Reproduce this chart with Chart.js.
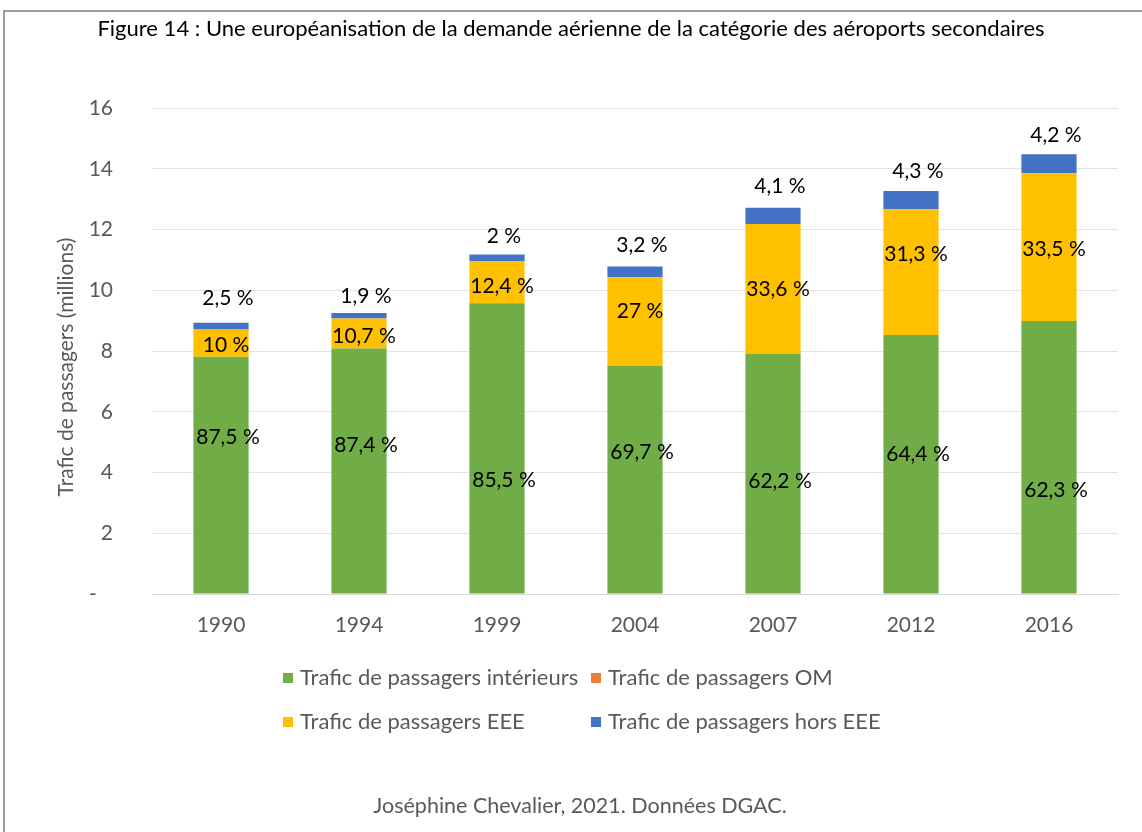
<!DOCTYPE html>
<html><head><meta charset="utf-8">
<script src="https://cdn.jsdelivr.net/npm/chart.js@4/dist/chart.umd.min.js"></script>
<style>html,body{margin:0;padding:0;background:#fff;} #wrap{width:1142px;height:832px;position:relative;overflow:hidden}</style>
</head><body><div id="wrap"><canvas id="c" width="1142" height="832" style="width:1142px;height:832px"></canvas></div>
<script>
// ---- data ----
const years = ['1990', '1994', '1999', '2004', '2007', '2012', '2016'];
const interieurs = [7.81, 8.08, 9.57, 7.51, 7.90, 8.53, 8.99];
const om = [0, 0, 0, 0, 0, 0, 0];
const eee = [0.90, 0.99, 1.39, 2.92, 4.28, 4.14, 4.86];
const horsEee = [0.22, 0.18, 0.22, 0.35, 0.54, 0.60, 0.63];
const pctInterieurs = ['87,5 %', '87,4 %', '85,5 %', '69,7 %', '62,2 %', '64,4 %', '62,3 %'];
const pctEee = ['10 %', '10,7 %', '12,4 %', '27 %', '33,6 %', '31,3 %', '33,5 %'];
const pctHorsEee = ['2,5 %', '1,9 %', '2 %', '3,2 %', '4,1 %', '4,3 %', '4,2 %'];
const seriesNames = ['Trafic de passagers intérieurs', 'Trafic de passagers OM', 'Trafic de passagers EEE', 'Trafic de passagers hors EEE'];
const titleText = 'Figure 14 : Une européanisation de la demande aérienne de la catégorie des aéroports secondaires';
const yTitle = 'Trafic de passagers (millions)';
const sourceText = 'Joséphine Chevalier, 2021. Données DGAC.';

// ---- style / layout ----
const FONT = 'Lato, "Open Sans", sans-serif';
const GREY = '#595959';
const colors = ['#70AD47', '#ED7D31', '#FFC000', '#4472C4'];
// label nudges (px) relative to segment centre / bar top, as placed in the original
const greenDy = [-38, -26, 32, -27, 7, -10, 33];
const yellowDy = [2, 3, 4, -10, 0, -18, 2];
const blueDy = [-25, -17, -18, -21, -21, -20, -19];

const labelPlugin = {
  id: 'labels',
  afterDatasetsDraw(chart) {
    const ctx = chart.ctx;
    ctx.save();
    ctx.fillStyle = '#000';
    ctx.font = '21px ' + FONT;
    ctx.textAlign = 'center';
    ctx.textBaseline = 'middle';
    const g = chart.getDatasetMeta(0).data;
    const y = chart.getDatasetMeta(2).data;
    const b = chart.getDatasetMeta(3).data;
    g.forEach((el, i) => ctx.fillText(pctInterieurs[i], el.x + 7, (el.y + el.base) / 2 + greenDy[i]));
    y.forEach((el, i) => ctx.fillText(pctEee[i], el.x + 5, (el.y + el.base) / 2 + yellowDy[i]));
    b.forEach((el, i) => ctx.fillText(pctHorsEee[i], el.x + 7, el.y + blueDy[i]));
    ctx.restore();
  },
  afterDraw(chart) {
    const ctx = chart.ctx;
    const ca = chart.chartArea;
    ctx.save();
    // frame
    ctx.strokeStyle = '#7f7f7f';
    ctx.lineWidth = 1.5;
    ctx.beginPath();
    ctx.moveTo(4, 840); ctx.lineTo(4, 11); ctx.lineTo(1150, 11);
    ctx.stroke();
    // y axis title
    ctx.fillStyle = GREY;
    ctx.font = '21px ' + FONT;
    ctx.textAlign = 'center';
    ctx.textBaseline = 'middle';
    ctx.translate(66, (ca.top + ca.bottom) / 2 + 16);
    ctx.rotate(-Math.PI / 2);
    ctx.fillText(yTitle, 0, 0);
    ctx.restore();
    // legend
    ctx.save();
    ctx.font = '22px ' + FONT;
    ctx.textBaseline = 'middle';
    ctx.textAlign = 'left';
    const cols = [283, 591];
    const rows = [678, 722];
    seriesNames.forEach((name, i) => {
      const x = cols[i % 2], yy = rows[Math.floor(i / 2)];
      ctx.fillStyle = colors[i];
      ctx.fillRect(x, yy - 5, 10, 10);
      ctx.fillStyle = GREY;
      ctx.fillText(name, x + 17, yy);
    });
    // source
    ctx.textAlign = 'center';
    ctx.font = '21.5px ' + FONT;
    ctx.fillText(sourceText, 580, 806);
    ctx.restore();
  }
};

new Chart(document.getElementById('c'), {
  type: 'bar',
  data: {
    labels: years,
    datasets: [
      { label: seriesNames[0], data: interieurs, backgroundColor: colors[0] },
      { label: seriesNames[1], data: om, backgroundColor: colors[1] },
      { label: seriesNames[2], data: eee, backgroundColor: colors[2] },
      { label: seriesNames[3], data: horsEee, backgroundColor: colors[3] }
    ]
  },
  options: {
    responsive: false,
    animation: false,
    devicePixelRatio: 1,
    datasets: { bar: { barPercentage: 0.4, categoryPercentage: 1.0, borderWidth: 0 } },
    layout: { padding: { left: 24, right: 24, top: 0, bottom: 178 } },
    plugins: {
      legend: { display: false },
      tooltip: { enabled: false },
      title: {
        display: true,
        text: titleText,
        color: '#000',
        font: { family: FONT, size: 22, weight: 'normal', lineHeight: 1.2 },
        padding: { top: 15.8, bottom: 65.8 }
      }
    },
    scales: {
      x: {
        stacked: true,
        grid: { display: false, drawTicks: false },
        border: { display: true, color: '#d9d9d9', width: 1 },
        ticks: { color: GREY, font: { family: FONT, size: 21 }, padding: 19 },
        afterFit(s) { s.height = 60; }
      },
      y: {
        stacked: true,
        min: 0, max: 16,
        grid: { color: '#e3e3e3', drawTicks: false },
        border: { display: false },
        ticks: {
          stepSize: 2, color: GREY, font: { family: FONT, size: 21 }, padding: 39,
          callback: v => (v === 0 ? '-   ' : String(v))
        },
        afterFit(s) { s.width = 128; }
      }
    }
  },
  plugins: [labelPlugin]
});
</script>
</body></html>
